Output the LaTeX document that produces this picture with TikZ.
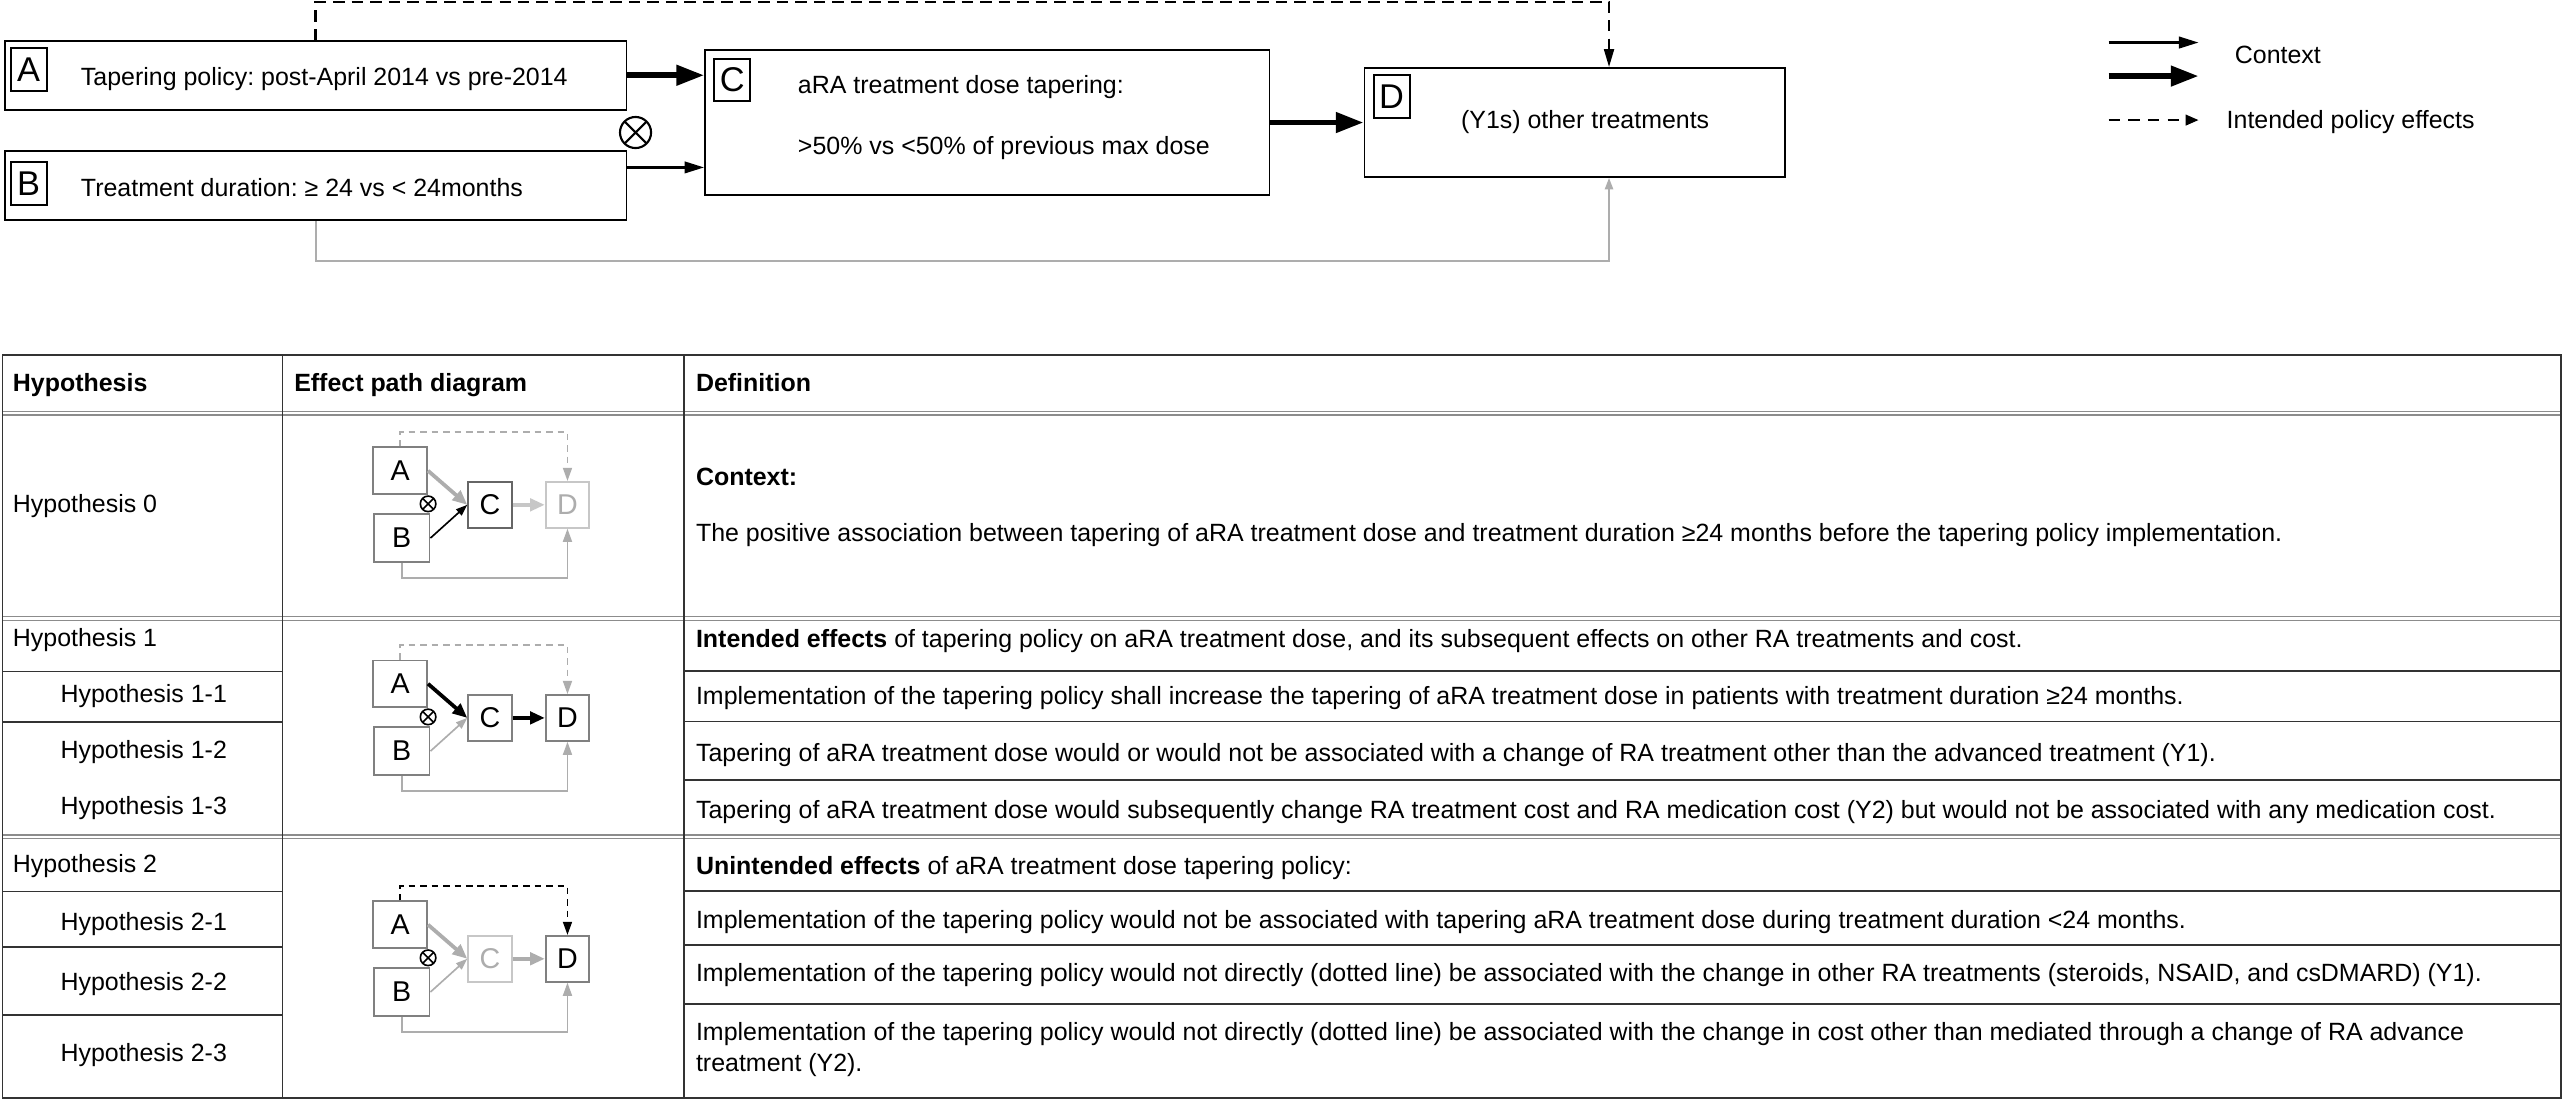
\documentclass[tikz,border=0pt]{standalone}
\usepackage{fontspec}
\setmainfont{Liberation Sans}
\usepackage{xcolor}
\usepackage{tikz}
\usetikzlibrary{arrows.meta,positioning}

\definecolor{boxgray}{gray}{0.50}
\definecolor{boxdark}{gray}{0.40}
\definecolor{fadegray}{gray}{0.78}
\definecolor{fadetext}{gray}{0.68}
\definecolor{arrowgray}{gray}{0.68}
\definecolor{rulegray}{gray}{0.55}
\definecolor{ruledark}{gray}{0.2}

\begin{document}
\frenchspacing
\begin{tikzpicture}[
			x=1pt, y=-1pt,
			every node/.style={font=\fontsize{15.25}{18.4}\selectfont},
			bigbox/.style={draw, line width=1.1pt, inner sep=0pt},
			tag/.style={draw, line width=1.1pt, minimum width=22pt, minimum height=26pt, inner sep=0pt, font=\fontsize{21}{21}\selectfont},
			txt/.style={anchor=base west, inner sep=0pt},
			headcell/.style={txt, font=\fontsize{15.25}{18.4}\selectfont\bfseries},
			otimes/.style={circle, draw, inner sep=0pt, minimum size=#1, path picture={\draw (path picture bounding box.north west) -- (path picture bounding box.south east) (path picture bounding box.north east) -- (path picture bounding box.south west);}},
			context/.style={line width=1.6pt, -{Triangle[length=12pt,width=7pt]}},
			effect/.style={line width=3.5pt, -{Triangle[length=17pt,width=12pt]}},
			policy/.style={line width=1.5pt, dash pattern=on 7pt off 4.3pt, -{Triangle[length=11pt,width=6pt]}},
			route/.style={line width=1.2pt, draw=arrowgray, -{Triangle[length=7pt,width=5pt]}},
			minibox/.style={draw=boxgray, line width=1.2pt, minimum width=26.5pt, minimum height=28pt, inner sep=0pt, font=\fontsize{17.5}{17.5}\selectfont},
			fat/.style={line width=2.3pt, -{Triangle[length=9pt,width=7.5pt]}},
			slim/.style={line width=1pt, -{Triangle[length=7pt,width=5pt]}},
			minidash/.style={line width=1pt, dash pattern=on 4pt off 3pt, -{Triangle[length=8pt,width=5.5pt]}},
			miniroute/.style={line width=1pt, draw=arrowgray, -{Triangle[length=8pt,width=5.5pt]}},
			rule/.style={draw=ruledark, line width=1.1pt},
			split/.style={draw=rulegray, double, double distance=1.4pt, line width=0.8pt}
			]
			\useasboundingbox (0,0) rectangle (1568,672.4);
			\fill [white] (0,0) rectangle (1568,672.4);
			
			% 节点定义
			\node (A) [bigbox, minimum width=380pt, minimum height=42pt] at (193,46) {};
			\node (B) [bigbox, minimum width=380pt, minimum height=42.5pt, below=24pt of A] {};
			\node (C) [bigbox, minimum width=345pt, minimum height=88.6pt] at (603.5,74.9) {};
			\node (D) [bigbox, minimum width=257pt, minimum height=66.6pt, right=57pt of C] {};
			\node (Atag) [tag, below right=4.5pt and 3.5pt of A.north west] {A};
			\node (Btag) [tag, below right=7pt and 3.5pt of B.north west] {B};
			\node (Ctag) [tag, below right=5.3pt and 5.6pt of C.north west] {C};
			\node (Dtag) [tag, below right=4.4pt and 5.6pt of D.north west] {D};
			\node (Atext) [txt] at (49.3,52.4) {Tapering policy: post-April 2014 vs pre-2014};
			\node (Btext) [txt] at (49.3,120.4) {Treatment duration: ≥ 24 vs < 24months};
			\node (Ctext) [anchor=north west, inner sep=0pt, align=left] at (487.6,45.6) {aRA treatment dose tapering:\\[19.1pt]>50\% vs <50\% of previous max dose};
			\node (Dtext) [anchor=base, inner sep=0pt] at (969,78.8) {(Y1s) other treatments};
			\node (X) [otimes=19pt, line width=1.3pt] at (388.5,81) {};
			
			% 边缘箭头
			\coordinate (Bout) at ([yshift=11pt]B.east);
			\coordinate (top) at (0,1.2);
			\coordinate (bot) at (0,159.6);
			\coordinate (Din) at ([xshift=21pt]D.north);
			\coordinate (Dout) at ([xshift=21pt]D.south);
			\draw [effect] (A.east) -- (A.east -| C.west);
			\draw [context] (Bout) -- (Bout -| C.west);
			\draw [effect] (C.east) -- (D.west);
			\draw [policy] (A.north) -- (A.north |- top) -| (Din);
			\draw [route] (B.south) -- (B.south |- bot) -| (Dout);
			
			% 图例
			\coordinate (L1) at (1289,26);
			\coordinate (L1end) at (1344,26);
			\coordinate (L2) at (1289,46.5);
			\coordinate (L2end) at (1344,46.5);
			\coordinate (L3) at (1289,73.4);
			\coordinate (L3end) at (1344,73.4);
			\draw [context] (L1) -- (L1end);
			\draw [effect] (L2) -- (L2end);
			\draw [line width=1.4pt, dash pattern=on 7pt off 5pt, -{Triangle[length=8pt,width=6.5pt]}] (L3) -- (L3end);
			\node (ctxkey) [txt] at (1366,39) {Context};
			\node (polkey) [txt] at (1361,78.8) {Intended policy effects};
			
			% 表格
			\draw [split] (1.5,252.5) -- (1565.5,252.5);
			\draw [split] (1.5,378) -- (1565.5,378);
			\draw [split] (1.5,511.5) -- (1565.5,511.5);
			\draw [rule] (1.5,217) rectangle (1565.5,671);
			\draw [rule] (172.7,217) -- (172.7,671);
			\draw [rule] (418.3,217) -- (418.3,671);
			\draw [rule] (1.5,410.5) -- (172.7,410.5);
			\draw [rule] (1.5,441.5) -- (172.7,441.5);
			\draw [rule] (418.3,410) -- (1565.5,410);
			\draw [rule] (418.3,441) -- (1565.5,441);
			\draw [rule] (418.3,477) -- (1565.5,477);
			\draw [rule] (1.5,545) -- (172.7,545);
			\draw [rule] (1.5,579) -- (172.7,579);
			\draw [rule] (1.5,620.5) -- (172.7,620.5);
			\draw [rule] (418.3,544.5) -- (1565.5,544.5);
			\draw [rule] (418.3,577.5) -- (1565.5,577.5);
			\draw [rule] (418.3,613.5) -- (1565.5,613.5);
			
			\node (hyp) [headcell] at (7.7,239.4) {Hypothesis};
			\node (path) [headcell] at (179.7,239.4) {Effect path diagram};
			\node (def) [headcell] at (425.3,239.4) {Definition};
			\node (h0) [txt] at (7.7,313) {Hypothesis 0};
			\node (h1) [txt] at (7.7,395.4) {Hypothesis 1};
			\node (h11) [txt] at (36.8,429.7) {Hypothesis 1-1};
			\node (h12) [txt] at (36.8,463.4) {Hypothesis 1-2};
			\node (h13) [txt] at (36.8,498.1) {Hypothesis 1-3};
			\node (h2) [txt] at (7.7,533.2) {Hypothesis 2};
			\node (h21) [txt] at (36.8,568.8) {Hypothesis 2-1};
			\node (h22) [txt] at (36.8,605.4) {Hypothesis 2-2};
			\node (h23) [txt] at (36.8,648.9) {Hypothesis 2-3};
			\node (d0a) [txt] at (425.3,296.8) {\bfseries Context:};
			\node (d0b) [txt] at (425.3,331) {The positive association between tapering of aRA treatment dose and treatment duration ≥24 months before the tapering policy implementation.};
			\node (d1) [txt] at (425.3,396) {{\bfseries Intended effects} of tapering policy on aRA treatment dose, and its subsequent effects on other RA treatments and cost.};
			\node (d11) [txt] at (425.3,430.9) {Implementation of the tapering policy shall increase the tapering of aRA treatment dose in patients with treatment duration ≥24 months.};
			\node (d12) [txt] at (425.3,465.3) {Tapering of aRA treatment dose would or would not be associated with a change of RA treatment other than the advanced treatment (Y1).};
			\node (d13) [txt] at (425.3,500.4) {Tapering of aRA treatment dose would subsequently change RA treatment cost and RA medication cost (Y2) but would not be associated with any medication cost.};
			\node (d2) [txt] at (425.3,534.8) {{\bfseries Unintended effects} of aRA treatment dose tapering policy:};
			\node (d21) [txt] at (425.3,567.4) {Implementation of the tapering policy would not be associated with tapering aRA treatment dose during treatment duration <24 months.};
			\node (d22) [txt] at (425.3,600) {Implementation of the tapering policy would not directly (dotted line) be associated with the change in other RA treatments (steroids, NSAID, and csDMARD) (Y1).};
			\node (d23) [anchor=north west, inner sep=0pt, align=left] at (425.3,625.1) {Implementation of the tapering policy would not directly (dotted line) be associated with the change in cost other than mediated through a change of RA advance\\treatment (Y2).};
			
			% 效应路径图 0
			\node (C0) [minibox, draw=boxdark] at (299.5,308.6) {C};
			\node (D0) [minibox, draw=fadegray, text=fadetext, right=19.7pt of C0] {D};
			\node (A0) [minibox, minimum width=33pt, minimum height=28.5pt, left=24pt of C0, yshift=20.85pt] {A};
			\node (B0) [minibox, minimum width=34pt, minimum height=29.5pt, left=22.5pt of C0, yshift=-20.3pt] {B};
			\node (X0) [otimes=9.5pt, line width=1pt, left=18.7pt of C0, yshift=0.6pt] {};
			\draw [fat, arrowgray] (A0.east) -- (C0.west);
			\draw [slim] (B0.east) -- (C0.west);
			\draw [fat, fadegray] (C0.east) -- (D0.west);
			\draw [minidash, arrowgray] (A0.north) -- ++(0,-8.7) -| (D0.north);
			\draw [miniroute] (B0.south) -- ++(0,9.2) -| (D0.south);
			
			% 效应路径图 1
			\node (C1) [minibox] at (299.5,438.85) {C};
			\node (D1) [minibox, right=19.7pt of C1] {D};
			\node (A1) [minibox, minimum width=33pt, minimum height=28.5pt, left=24pt of C1, yshift=20.85pt] {A};
			\node (B1) [minibox, minimum width=34pt, minimum height=29.5pt, left=22.5pt of C1, yshift=-20.3pt] {B};
			\node (X1) [otimes=9.5pt, line width=1pt, left=18.7pt of C1, yshift=0.6pt] {};
			\draw [fat] (A1.east) -- (C1.west);
			\draw [slim, arrowgray] (B1.east) -- (C1.west);
			\draw [fat] (C1.east) -- (D1.west);
			\draw [minidash, arrowgray] (A1.north) -- ++(0,-8.7) -| (D1.north);
			\draw [miniroute] (B1.south) -- ++(0,9.2) -| (D1.south);
			
			% 效应路径图 2
			\node (C2) [minibox, draw=fadegray, text=fadetext] at (299.5,586.1) {C};
			\node (D2) [minibox, right=19.7pt of C2] {D};
			\node (A2) [minibox, minimum width=33pt, minimum height=28.5pt, left=24pt of C2, yshift=20.85pt] {A};
			\node (B2) [minibox, minimum width=34pt, minimum height=29.5pt, left=22.5pt of C2, yshift=-20.3pt] {B};
			\node (X2) [otimes=9.5pt, line width=1pt, left=18.7pt of C2, yshift=0.6pt] {};
			\draw [fat, arrowgray] (A2.east) -- (C2.west);
			\draw [slim, arrowgray] (B2.east) -- (C2.west);
			\draw [fat, arrowgray] (C2.east) -- (D2.west);
			\draw [minidash] (A2.north) -- ++(0,-8.7) -| (D2.north);
			\draw [miniroute] (B2.south) -- ++(0,9.2) -| (D2.south);
			
		\end{tikzpicture}
\end{document}
